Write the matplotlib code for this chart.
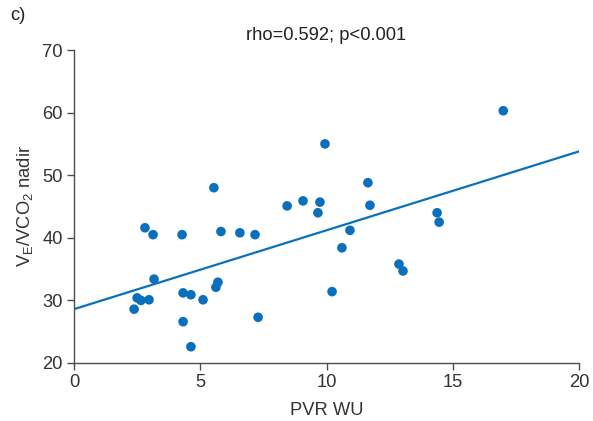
import numpy as np
import matplotlib
matplotlib.use("Agg")
import matplotlib.pyplot as plt

plt.rcParams["font.family"] = ["Liberation Sans", "DejaVu Sans"]
plt.rcParams["mathtext.fontset"] = "custom"
plt.rcParams["mathtext.rm"] = "Liberation Sans"

pvr = [17.0, 9.94, 5.54, 11.64, 11.72, 8.44, 9.07, 9.74, 9.66, 14.38,
       14.46, 2.81, 3.13, 4.28, 5.82, 6.57, 7.17, 10.93, 10.61, 3.17,
       5.70, 5.62, 12.87, 13.03, 10.22, 2.50, 2.65, 2.97, 2.38, 4.32,
       4.63, 5.11, 4.32, 7.29, 4.63]
ve_vco2 = [60.3, 55.0, 48.0, 48.8, 45.2, 45.1, 45.9, 45.7, 44.0, 44.0,
           42.5, 41.6, 40.5, 40.5, 41.0, 40.8, 40.5, 41.2, 38.4, 33.4,
           32.9, 32.1, 35.8, 34.7, 31.4, 30.4, 30.0, 30.1, 28.6, 31.2,
           30.9, 30.1, 26.6, 27.3, 22.6]

# regression line end points
fit_x = [0, 20]
fit_y = [28.6, 53.8]

blue = "#0a70bd"
grey = "#4d4d4d"
fs = 13.2

fig = plt.figure(figsize=(5.93, 4.21), dpi=100)
ax = fig.add_axes([0.1248, 0.1378, 0.8516, 0.7434])

ax.scatter(pvr, ve_vco2, s=48, color=blue, edgecolors="none", zorder=3)
ax.plot(fit_x, fit_y, color=blue, lw=1.6, zorder=2)

ax.set_xlim(0, 20)
ax.set_ylim(20, 70)
ax.set_xticks([0, 5, 10, 15, 20])
ax.set_yticks([20, 30, 40, 50, 60, 70])

for side in ["top", "right"]:
    ax.spines[side].set_visible(False)
for side in ["left", "bottom"]:
    ax.spines[side].set_color(grey)
    ax.spines[side].set_linewidth(1.0)
ax.tick_params(colors=grey, labelcolor="#333333", labelsize=fs,
               length=5, width=1.0, direction="out", pad=3)

ax.set_xlabel("PVR WU", fontsize=fs, color="#333333", labelpad=8)
ax.set_ylabel(r"V$_\mathregular{E}$/VCO$_\mathregular{2}$ nadir",
              fontsize=fs, color="#333333", labelpad=5)
ax.set_title("rho=0.592; p<0.001", fontsize=fs, color="#222222", pad=7)
fig.text(0.018, 0.963, "c)", fontsize=fs, color="#222222",
         ha="left", va="center")

fig.savefig("out.png", dpi=100)
